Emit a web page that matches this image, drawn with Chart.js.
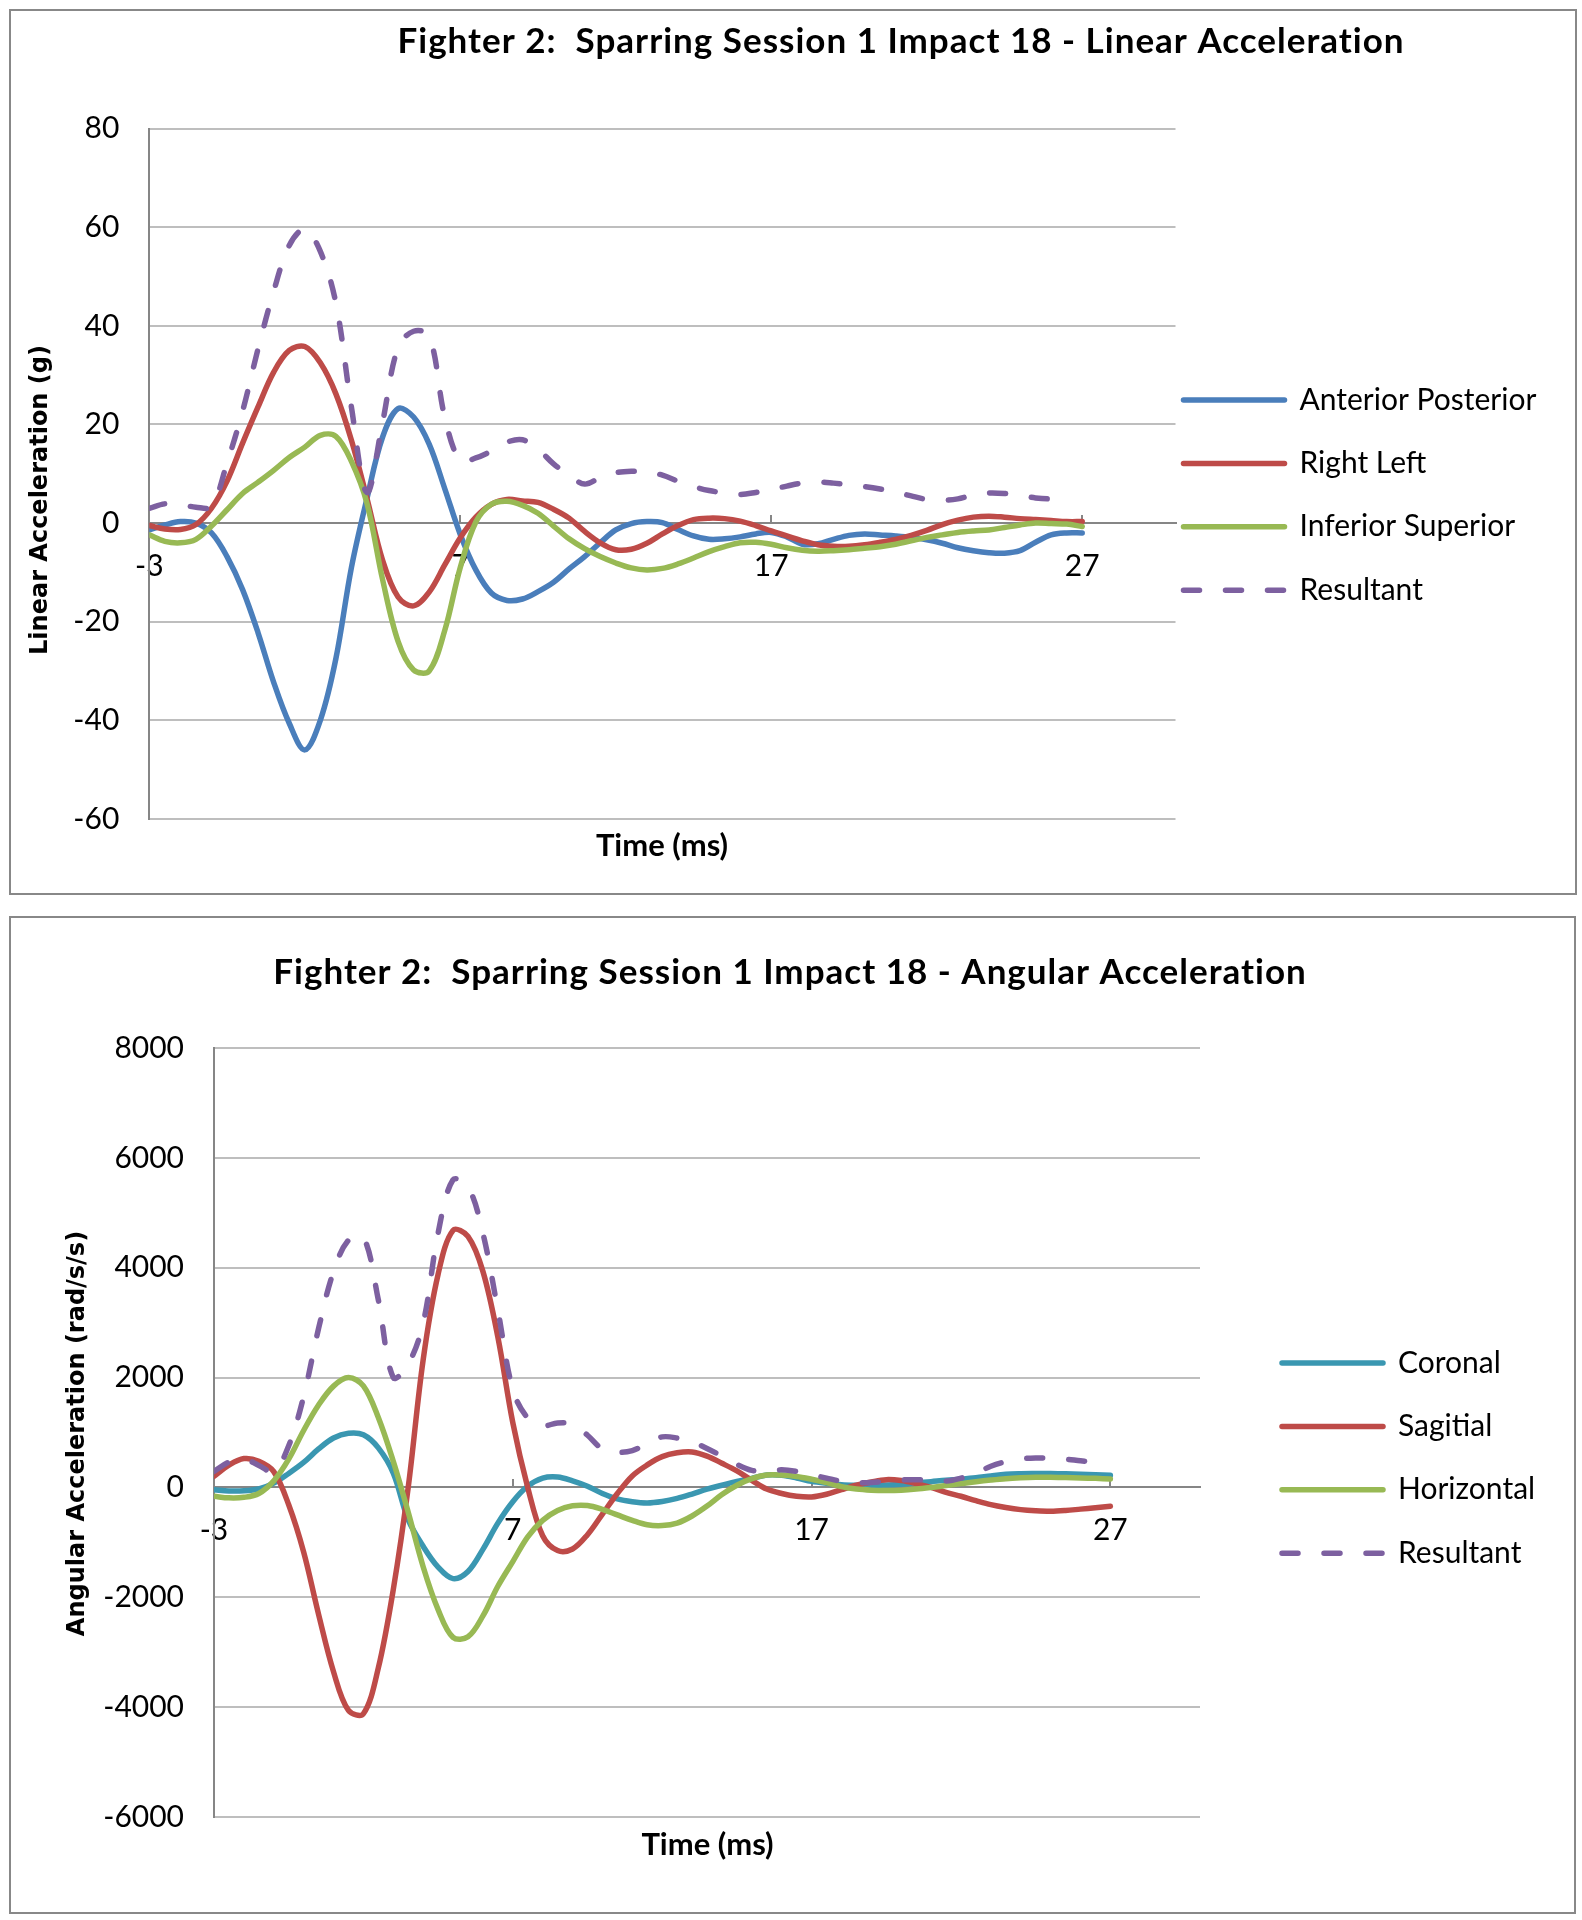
<!DOCTYPE html>
<html>
<head>
<meta charset="utf-8">
<title>Fighter 2: Sparring Session 1 Impact 18</title>
<script src="https://cdn.jsdelivr.net/npm/chart.js@4.4.1/dist/chart.umd.min.js"></script>
<style>
  html, body { margin: 0; background: #fff; }
  body { width: 1582px; height: 1920px; position: relative; overflow: hidden; }
  .box { position: absolute; border: 2px solid #888; background: #fff; }
  .box canvas { display: block; }
</style>
</head>
<body>
<div class="box" style="left:9px;top:9px;width:1564px;height:882px;"><canvas id="linChart" width="1564" height="882"></canvas></div>
<div class="box" style="left:9px;top:916px;width:1563px;height:994px;"><canvas id="angChart" width="1563" height="994"></canvas></div>

<script>
/**
 */
const TIMES = [
  -3, -2.5, -2, -1.5, -1, -0.5, 0, 0.5, 1, 1.5,
  2, 2.5, 3, 3.5, 4, 4.5, 5, 5.5, 6, 6.5,
  7, 7.5, 8, 8.5, 9, 9.5, 10, 10.5, 11, 11.5,
  12, 12.5, 13, 13.5, 14, 14.5, 15, 15.5, 16, 16.5,
  17, 17.5, 18, 18.5, 19, 19.5, 20, 20.5, 21, 21.5,
  22, 22.5, 23, 23.5, 24, 24.5, 25, 25.5, 26, 26.5,
  27
];
const X_TICKS = [-3, 7, 17, 27];

// Linear acceleration (g)
const LIN_Y_TICKS = [-60, -40, -20, 0, 20, 40, 60, 80];
const anteriorPosterior = [
  -1.4, -0.4, 0.3, 0.0, -2.0, -6.8, -13.5, -22.3, -32.3, -40.6,
  -46.0, -40.0, -27.5, -9.0, 5.0, 17.4, 23.2, 21.5, 16.0, 7.0,
  -2.3, -9.5, -14.2, -15.7, -15.4, -13.9, -12.0, -9.3, -6.8, -4.0,
  -1.4, -0.1, 0.3, 0.1, -1.3, -2.6, -3.3, -3.2, -2.8, -2.2,
  -1.9, -2.8, -4.3, -4.2, -3.3, -2.5, -2.2, -2.4, -2.6, -2.9,
  -3.4, -4.1, -5.0, -5.6, -6.0, -6.1, -5.6, -3.9, -2.4, -2.0,
  -2.0
];
const rightLeft = [
  -0.5, -1.2, -1.3, -0.3, 3.0, 8.5, 16.2, 23.6, 30.6, 35.0,
  35.8, 32.5, 26.2, 16.8, 5.0, -7.5, -15.0, -16.8, -14.0, -8.5,
  -3.0, 1.2, 3.8, 4.8, 4.5, 4.2, 2.8, 1.0, -1.7, -4.0,
  -5.4, -5.3, -4.1, -2.2, -0.5, 0.7, 1.0, 0.9, 0.4, -0.5,
  -1.6, -2.6, -3.6, -4.4, -4.7, -4.7, -4.4, -3.9, -3.3, -2.5,
  -1.5, -0.3, 0.6, 1.2, 1.4, 1.2, 0.9, 0.7, 0.5, 0.3,
  0.3
];
const inferiorSuperior = [
  -2.4, -3.7, -4.0, -3.3, -0.6, 2.7, 6.0, 8.3, 10.7, 13.3,
  15.4, 17.8, 17.6, 12.5, 4.0, -11.4, -24.0, -29.8, -30.0, -21.8,
  -9.0, 0.2, 3.8, 4.4, 3.6, 2.0, -0.6, -3.2, -5.2, -6.8,
  -8.1, -9.1, -9.5, -9.2, -8.3, -7.1, -5.8, -4.8, -4.0, -3.9,
  -4.3, -5.0, -5.5, -5.7, -5.6, -5.4, -5.1, -4.8, -4.3, -3.6,
  -2.9, -2.4, -1.9, -1.6, -1.4, -0.9, -0.4, 0.0, -0.1, -0.2,
  -0.7
];
const linResultant = [
  3.0, 3.9, 3.8, 3.2, 3.4, 12.2, 22.7, 35.4, 47.0, 56.3,
  59.6, 55.1, 44.6, 23.5, 6.2, 20.4, 35.7, 38.9, 38.0, 21.5,
  12.6, 13.2, 14.6, 16.4, 16.9, 15.0, 12.0, 9.7, 7.9, 9.2,
  10.2, 10.5, 10.4, 9.7, 8.5, 7.4, 6.6, 6.1, 5.8, 6.2,
  6.8, 7.5, 8.1, 8.3, 8.1, 7.8, 7.4, 6.9, 6.3, 5.5,
  4.8, 4.6, 4.9, 5.7, 6.1, 6.0, 5.6, 5.1, 4.9, 5.1,
  null
];

// Angular acceleration (rad/s/s)
const ANG_Y_TICKS = [-6000, -4000, -2000, 0, 2000, 4000, 6000, 8000];
const coronal = [
  -42, -65, -62, -25, 79, 255, 455, 700, 900, 985,
  958, 720, 260, -586, -1072, -1450, -1660, -1530, -1127, -650,
  -260, 23, 170, 190, 120, 21, -110, -210, -260, -282,
  -255, -200, -120, -30, 40, 110, 165, 225, 220, 172,
  110, 75, 51, 40, 35, 45, 60, 81, 105, 130,
  150, 175, 210, 240, 250, 252, 252, 248, 240, 230,
  221
];
const sagitial = [
  202, 405, 525, 475, 287, -315, -1175, -2310, -3355, -4060,
  -4120, -3286, -1860, 0, 2323, 3880, 4680, 4570, 3933, 2740,
  1180, 0, -880, -1150, -1120, -860, -485, -110, 210, 410,
  560, 630, 645, 570, 440, 300, 130, -30, -110, -160,
  -173, -125, -40, 40, 100, 142, 125, 70, 0, -90,
  -161, -240, -313, -365, -404, -425, -434, -420, -395, -370,
  -343
];
const horizontal = [
  -162, -190, -180, -110, 120, 515, 1037, 1500, 1844, 2000,
  1848, 1272, 475, -450, -1443, -2224, -2730, -2720, -2340, -1800,
  -1350, -900, -600, -420, -335, -330, -400, -500, -600, -680,
  -695, -650, -520, -340, -130, 40, 160, 225, 225, 200,
  150, 90, 15, -30, -50, -55, -50, -30, 0, 35,
  70, 105, 135, 160, 175, 184, 184, 180, 172, 165,
  154
];
const angResultant = [
  291, 460, 520, 400, 290, 758, 1656, 2894, 3931, 4500,
  4560, 3415, 2000, 2242, 2990, 4630, 5600, 5478, 4628, 3233,
  1783, 1262, 1120, 1175, 1150, 950, 700, 640, 670, 800,
  920, 900, 830, 710, 570, 420, 310, 300, 320, 290,
  230, 170, 112, 85, 90, 112, 135, 140, 130, 115,
  170, 260, 385, 470, 520, 536, 530, 515, 485, 460,
  433
];

/**
 * --- 2. STYLE ---
 */
const GRID = '#BEBEBE';
const AXIS = '#868686';
const C_BLUE = '#4A7EBB', C_RED = '#BE4B48', C_GREEN = '#98B954', C_PURPLE = '#7D60A0', C_TEAL = '#3A97B1';
const TICK_FONT = { family: 'Lato', size: 30 };
const LEGEND_FONT = { family: 'Lato', size: 30, lineHeight: 1.847 };
const LINE_W = 5.5;
const RESULTANT_DASH = [16, 26];

Chart.defaults.font.family = 'Lato';
Chart.defaults.color = '#000';

function toPoints(values) {
  const pts = [];
  TIMES.forEach((t, i) => { if (values[i] !== null) pts.push({ x: t, y: values[i] }); });
  return pts;
}

// titles that sit at fixed spots of the canvas (chart title, axis titles)
function textPlugin(items) {
  return {
    id: 'fixedTexts',
    afterDraw(chart) {
      const ctx = chart.ctx;
      items.forEach(t => {
        ctx.save();
        ctx.font = t.font;
        ctx.fillStyle = '#000';
        ctx.textAlign = 'center';
        ctx.textBaseline = t.baseline || 'alphabetic';
        if (t.spacing) ctx.letterSpacing = t.spacing;
        ctx.translate(t.x, t.y);
        if (t.rotate) ctx.rotate(t.rotate);
        ctx.fillText(t.text, 0, 0);
        ctx.restore();
      });
    }
  };
}

// the legend sits a little away from the plot area in the second chart
function legendGapPlugin(gap) {
  return {
    id: 'legendGap',
    afterLayout(chart) {
      if (!gap || !chart.legend) return;
      chart.legend.left += gap;
      chart.legend.right += gap;
    }
  };
}

// nudge layout padding until the plot area sits where the reference has it
function pinArea(chart, area) {
  const pad = { left: 0, right: 0, top: 0, bottom: 0 };
  for (let k = 0; k < 4; k++) {
    const a = chart.chartArea;
    pad.left += area.left - a.left;
    pad.top += area.top - a.top;
    pad.right += a.right - area.right;
    pad.bottom += a.bottom - area.bottom;
    chart.options.layout.padding = { ...pad };
    chart.update();
  }
}

// legend samples: dataset stroke (point style would drop the dash)
function legendLabels(c) {
  return Chart.defaults.plugins.legend.labels.generateLabels(c).map(l => {
    const ds = c.data.datasets[l.datasetIndex];
    return Object.assign(l, {
      text: [l.text],
      lineWidth: ds.borderWidth,
      lineDash: ds.borderDash,
      lineCap: 'round',
      strokeStyle: ds.borderColor
    });
  });
}

function buildChart(canvasId, cfg) {
  const scales = {
    x: {
      type: 'linear', min: -3, max: 30,
      position: { y: 0 },
      afterFit: s => { s.height = 0; },
      afterBuildTicks: s => { s.ticks = X_TICKS.map(v => ({ value: v })); },
      grid: { drawOnChartArea: false, drawTicks: true, tickLength: -9, color: AXIS, lineWidth: 2 },
      border: { display: true, color: AXIS, width: 2 },
      ticks: { font: TICK_FONT, color: '#000', padding: 34, maxRotation: 0, autoSkip: false, callback: v => String(v) }
    },
    y: {
      type: 'linear', position: 'left', min: cfg.yTicks[0], max: cfg.yTicks[cfg.yTicks.length - 1],
      afterBuildTicks: s => { s.ticks = cfg.yTicks.map(v => ({ value: v })); },
      grid: { color: c => (c.tick && c.tick.value === 0) ? 'rgba(0,0,0,0)' : GRID, lineWidth: 2, drawTicks: false },
      border: { display: true, color: AXIS, width: 2 },
      ticks: { font: TICK_FONT, color: '#000', padding: 30, callback: v => String(v) }
    }
  };

  const n = cfg.series.length;
  const chart = new Chart(document.getElementById(canvasId), {
    type: 'line',
    data: {
      datasets: cfg.series.map((s, i) => ({
        label: s.label,
        data: toPoints(s.values),
        borderColor: s.color,
        backgroundColor: s.color,
        borderWidth: LINE_W,
        borderDash: s.dashed ? RESULTANT_DASH : [],
        borderCapStyle: 'round',
        borderJoinStyle: 'round',
        pointRadius: 0,
        pointHoverRadius: 0,
        tension: 0.35,
        fill: false,
        order: n - i   // later series painted on top, like the spreadsheet
      }))
    },
    options: {
      responsive: false,
      animation: false,
      devicePixelRatio: 1,
      events: [],
      layout: { padding: 0 },
      plugins: {
        title: { display: false },
        tooltip: { enabled: false },
        legend: {
          position: 'right',
          align: 'start',
          fullSize: false,
          title: { display: true, text: '', font: { size: 10, lineHeight: 1 }, padding: { top: cfg.legendTop, bottom: 0 } },
          labels: {
            usePointStyle: true,
            pointStyle: 'line',
            pointStyleWidth: 101,
            padding: 8,
            color: '#000',
            font: LEGEND_FONT,
            sort: (a, b) => a.datasetIndex - b.datasetIndex,
            generateLabels: legendLabels
          }
        }
      },
      scales
    },
    plugins: [legendGapPlugin(cfg.legendGap), textPlugin(cfg.texts)]
  });
  pinArea(chart, cfg.area);
  return chart;
}

/**
 * --- 3. CHARTS ---
 */
buildChart('linChart', {
  yTicks: LIN_Y_TICKS,
  area: { left: 138.3, top: 117.6, right: 1164.5, bottom: 807.9 },
  legendTop: 238.4,
  legendGap: 0,
  series: [
    { label: 'Anterior Posterior', values: anteriorPosterior, color: C_BLUE },
    { label: 'Right Left', values: rightLeft, color: C_RED },
    { label: 'Inferior Superior', values: inferiorSuperior, color: C_GREEN },
    { label: 'Resultant', values: linResultant, color: C_PURPLE, dashed: true }
  ],
  texts: [
    { text: 'Fighter 2:  Sparring Session 1 Impact 18 - Linear Acceleration', x: 890, y: 41.5, font: 'bold 35px Lato', spacing: '1px' },
    { text: 'Time (ms)', x: 651, y: 845, font: 'bold 31px Lato' },
    { text: 'Linear Acceleration (g)', x: 30, y: 489, rotate: -Math.PI / 2, baseline: 'middle', font: 'bold 24px "DejaVu Sans"' }
  ]
});

buildChart('angChart', {
  yTicks: ANG_Y_TICKS,
  area: { left: 203, top: 130, right: 1189, bottom: 899 },
  legendTop: 282,
  legendGap: 74,
  series: [
    { label: 'Coronal', values: coronal, color: C_TEAL },
    { label: 'Sagitial', values: sagitial, color: C_RED },
    { label: 'Horizontal', values: horizontal, color: C_GREEN },
    { label: 'Resultant', values: angResultant, color: C_PURPLE, dashed: true }
  ],
  texts: [
    { text: 'Fighter 2:  Sparring Session 1 Impact 18 - Angular Acceleration', x: 779, y: 66, font: 'bold 35px Lato', spacing: '1px' },
    { text: 'Time (ms)', x: 696.5, y: 936.5, font: 'bold 31px Lato' },
    { text: 'Angular Acceleration (rad/s/s)', x: 67, y: 515.5, rotate: -Math.PI / 2, baseline: 'middle', font: 'bold 24px "DejaVu Sans"' }
  ]
});
</script>
</body>
</html>
